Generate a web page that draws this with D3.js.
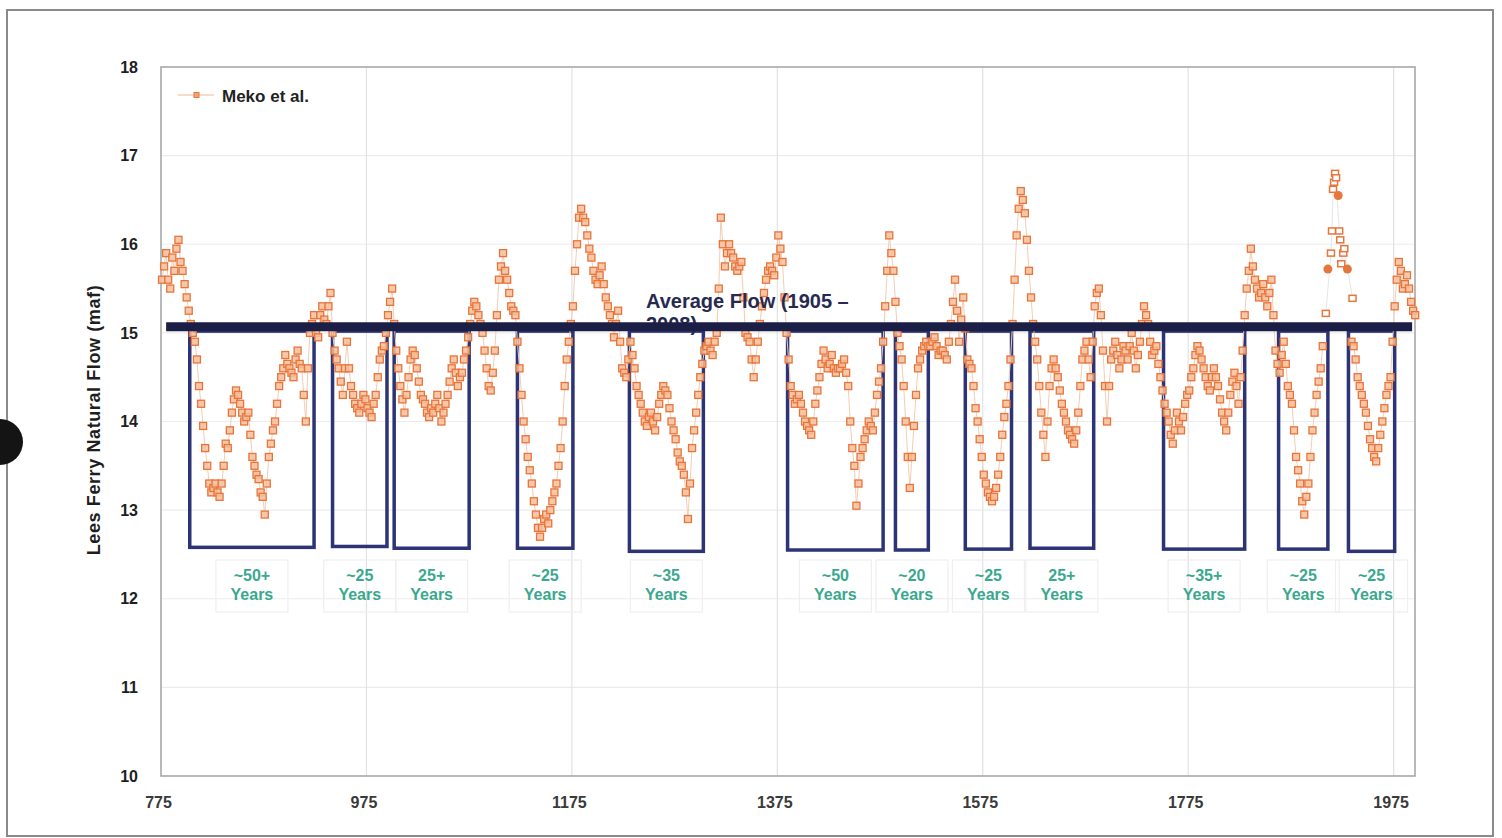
<!DOCTYPE html>
<html>
<head>
<meta charset="utf-8">
<script src="https://cdn.jsdelivr.net/npm/d3@7"></script>
<style>
  html, body { margin: 0; padding: 0; background: #fff; }
  svg { display: block; font-family: "Liberation Sans", Arial, sans-serif; }
</style>
</head>
<body>
<svg id="chart" width="1502" height="838"></svg>
<script>
// Lees Ferry natural flow reconstruction (Meko et al.), maf.
// flowA holds the years 776, 780, 784 ... and flowB the years 778, 782, 786 ...
const yearsA = d3.range(776, 1997, 4);
const flowA = [
  15.6, 15.9, 15.5, 15.7, 16.05, 15.7, 15.4, 15.1, 14.9, 14.4,
  13.95, 13.5, 13.2, 13.3, 13.15, 13.5, 13.7, 14.1, 14.35, 14.2,
  14.0, 14.1, 13.6, 13.4, 13.2, 12.95, 13.6, 13.9, 14.2, 14.5,
  14.75, 14.6, 14.5, 14.8, 14.6, 14.0, 15.0, 15.2, 14.95, 15.3,
  15.1, 15.45, 14.8, 14.6, 14.3, 14.9, 14.4, 14.2, 14.1, 14.3,
  14.15, 14.05, 14.3, 14.7, 14.85, 15.2, 15.5, 14.8, 14.4, 14.1,
  14.5, 14.8, 14.6, 14.3, 14.2, 14.05, 14.1, 14.3, 14.0, 14.2,
  14.45, 14.7, 14.4, 14.55, 14.8, 15.1, 15.35, 15.2, 15.0, 14.6,
  14.35, 14.8, 15.6, 15.9, 15.6, 15.3, 15.2, 14.6, 14.0, 13.6,
  13.3, 12.95, 12.7, 12.9, 12.85, 13.1, 13.3, 13.7, 14.4, 14.9,
  15.3, 16.0, 16.4, 16.25, 15.95, 15.7, 15.55, 15.75, 15.4, 15.2,
  14.95, 15.25, 14.6, 14.5, 14.9, 14.6, 14.3, 14.1, 13.95, 14.1,
  13.9, 14.2, 14.4, 14.3, 14.0, 13.8, 13.55, 13.4, 12.9, 13.7,
  14.1, 14.5, 14.8, 14.9, 14.75, 15.0, 16.3, 15.75, 16.0, 15.85,
  15.7, 15.8, 15.0, 14.9, 14.5, 14.9, 15.3, 15.6, 15.75, 15.65,
  16.1, 15.8, 15.0, 14.4, 14.2, 14.3, 14.1, 13.95, 13.85, 14.2,
  14.5, 14.8, 14.6, 14.75, 14.55, 14.6, 14.7, 14.4, 13.7, 13.05,
  13.6, 13.8, 14.0, 13.9, 14.3, 14.6, 15.3, 16.1, 15.7, 15.0,
  14.7, 14.0, 13.25, 13.95, 14.6, 14.8, 14.9, 14.85, 14.95, 14.75,
  14.8, 14.7, 15.1, 15.6, 14.9, 15.4, 14.7, 14.6, 14.15, 13.8,
  13.4, 13.2, 13.1, 13.25, 13.6, 14.05, 14.4, 15.1, 16.1, 16.6,
  16.35, 15.7, 15.1, 14.7, 14.1, 13.6, 14.4, 14.7, 14.5, 14.2,
  14.0, 13.85, 13.75, 14.1, 14.7, 14.9, 14.5, 15.3, 15.5, 14.8,
  14.0, 14.7, 14.9, 14.6, 14.85, 14.7, 15.0, 14.6, 14.9, 15.3,
  15.1, 14.75, 14.85, 14.5, 14.2, 14.0, 13.75, 14.1, 13.9, 14.2,
  14.35, 14.6, 14.85, 14.7, 14.5, 14.35, 14.6, 14.4, 14.1, 13.9,
  14.3, 14.55, 14.2, 14.8, 15.5, 15.95, 15.6, 15.4, 15.55, 15.3,
  15.6, 14.8, 14.55, 14.9, 14.4, 14.2, 13.6, 13.3, 12.95, 13.3,
  13.9, 14.3, 14.6, null, null, null, null, null, null, null,
  14.85, 14.5, 14.3, 14.1, 13.8, 13.6, 13.7, 14.0, 14.3, 14.5,
  15.3, 15.8, 15.5, 15.65, 15.35, 15.2
];
const yearsB = d3.range(778, 1995, 4);
const flowB = [
  15.75, 15.6, 15.85, 15.95, 15.8, 15.55, 15.25, 15.0, 14.7, 14.2,
  13.7, 13.3, 13.25, 13.2, 13.3, 13.75, 13.9, 14.25, 14.3, 14.1,
  14.05, 13.85, 13.5, 13.35, 13.15, 13.3, 13.75, 14.0, 14.4, 14.6,
  14.65, 14.55, 14.7, 14.65, 14.3, 14.6, 15.1, 15.0, 15.2, 15.15,
  15.3, 15.0, 14.7, 14.45, 14.6, 14.6, 14.3, 14.15, 14.2, 14.25,
  14.1, 14.2, 14.5, 14.8, 15.0, 15.35, 15.1, 14.6, 14.25, 14.3,
  14.7, 14.75, 14.45, 14.25, 14.1, 14.15, 14.2, 14.15, 14.1, 14.3,
  14.6, 14.55, 14.5, 14.7, 14.95, 15.25, 15.3, 15.1, 14.8, 14.4,
  14.55, 15.2, 15.75, 15.7, 15.45, 15.25, 14.9, 14.3, 13.8, 13.45,
  13.1, 12.8, 12.8, 12.95, 13.0, 13.2, 13.5, 14.0, 14.7, 15.1,
  15.7, 16.3, 16.3, 16.1, 15.85, 15.6, 15.65, 15.55, 15.3, 15.1,
  15.1, 14.9, 14.55, 14.7, 14.75, 14.4, 14.2, 14.0, 14.05, 14.0,
  14.05, 14.3, 14.35, 14.15, 13.9, 13.65, 13.5, 13.2, 13.3, 13.9,
  14.3, 14.65, 14.85, 14.8, 14.9, 15.5, 16.0, 15.9, 15.9, 15.75,
  15.75, 15.4, 14.95, 14.7, 14.7, 15.1, 15.45, 15.7, 15.7, 15.85,
  15.95, 15.4, 14.7, 14.3, 14.25, 14.2, 14.0, 13.9, 14.0, 14.35,
  14.65, 14.7, 14.65, 14.6, 14.6, 14.65, 14.55, 14.0, 13.5, 13.3,
  13.7, 13.9, 13.95, 14.1, 14.45, 14.9, 15.7, 15.9, 15.35, 14.85,
  14.4, 13.6, 13.6, 14.3, 14.7, 14.85, 14.85, 14.9, 14.85, 14.8,
  14.75, 14.9, 15.35, 15.25, 15.15, 15.05, 14.65, 14.4, 14.0, 13.6,
  13.3, 13.15, 13.15, 13.4, 13.85, 14.2, 14.7, 15.6, 16.4, 16.5,
  16.05, 15.4, 14.9, 14.4, 13.85, 14.0, 14.6, 14.6, 14.35, 14.1,
  13.9, 13.8, 13.9, 14.4, 14.8, 14.7, 14.9, 15.45, 15.2, 14.4,
  14.4, 14.8, 14.75, 14.7, 14.8, 14.85, 14.8, 14.75, 15.1, 15.2,
  14.9, 14.8, 14.65, 14.35, 14.1, 13.85, 13.9, 14.0, 14.05, 14.3,
  14.5, 14.75, 14.8, 14.6, 14.4, 14.5, 14.5, 14.25, 14.0, 14.1,
  14.45, 14.4, 14.5, 15.2, 15.7, 15.75, 15.5, 15.45, 15.4, 15.45,
  15.2, 14.65, 14.75, 14.65, 14.3, 13.9, 13.45, 13.1, 13.15, 13.6,
  14.1, 14.45, 14.85, null, null, null, null, null, null, 14.9,
  14.7, 14.4, 14.2, 13.95, 13.7, 13.55, 13.85, 14.15, 14.4, 14.9,
  15.6, 15.7, 15.55, 15.5, 15.25
];

// Early 20th-century wet period, drawn as crisp open squares and filled dots
const wetYears = [1909, 1914, 1915, 1916, 1917, 1918, 1919, 1922, 1923, 1924, 1926, 1927, 1935];
const wetFlow  = [15.22, 15.9, 16.15, 16.62, 16.7, 16.8, 16.75, 16.15, 16.05, 15.78, 15.9, 15.95, 15.39];
const dotYears = [1911, 1921, 1930];
const dotFlow  = [15.72, 16.55, 15.72];

// Long-term average
const avgFlow = 15.07;
const avgSpan = [780, 1993];

// Drought periods (start year, end year, lower edge in maf) and their labels
const droughtStart = [803, 942, 1002, 1122, 1231, 1385, 1490, 1558, 1621, 1751, 1863, 1931];
const droughtEnd   = [924, 995, 1075, 1176, 1303, 1478, 1522, 1603, 1683, 1830, 1911, 1976];
const droughtLow   = [12.58, 12.59, 12.57, 12.57, 12.535, 12.55, 12.55, 12.56, 12.57, 12.56, 12.56, 12.535];
const droughtTop   = 15.02;
const droughtLabel = ["~50+", "~25", "25+", "~25", "~35", "~50", "~20", "~25", "25+", "~35+", "~25", "~25"];

const xTicks = [775, 975, 1175, 1375, 1575, 1775, 1975];
const yTicks = [10, 11, 12, 13, 14, 15, 16, 17, 18];

const svg = d3.select("#chart");
const plot = { left: 161, right: 1415, top: 67, bottom: 776 };

const x = d3.scaleLinear().domain([775, 1995.8]).range([plot.left, plot.right]);
const y = d3.scaleLinear().domain([10, 18]).range([plot.bottom, plot.top]);

// outer frame and edge mark
svg.append("rect").attr("x", 7).attr("y", 10).attr("width", 1486).attr("height", 826)
  .attr("fill", "#fff").attr("stroke", "#8a8a8a").attr("stroke-width", 2);
svg.append("circle").attr("cx", 0).attr("cy", 442).attr("r", 23).attr("fill", "#141414");

// gridlines
const grid = svg.append("g");
grid.selectAll("line.h").data(yTicks.slice(1, -1)).join("line")
  .attr("x1", plot.left).attr("x2", plot.right)
  .attr("y1", d => y(d)).attr("y2", d => y(d))
  .attr("stroke", "#ececec").attr("stroke-width", 1.2);
grid.selectAll("line.v").data(xTicks.slice(1)).join("line")
  .attr("x1", d => x(d)).attr("x2", d => x(d))
  .attr("y1", plot.top).attr("y2", plot.bottom)
  .attr("stroke", "#e2e2e2").attr("stroke-width", 1.2);

// plot frame
svg.append("rect").attr("x", plot.left).attr("y", plot.top)
  .attr("width", plot.right - plot.left).attr("height", plot.bottom - plot.top)
  .attr("fill", "none").attr("stroke", "#a8a8a8").attr("stroke-width", 1.6);

// axes
const yAxis = svg.append("g").attr("transform", `translate(${plot.left},0)`)
  .call(d3.axisLeft(y).tickValues(yTicks).tickFormat(d3.format("d")).tickSize(0).tickPadding(23));
const xAxis = svg.append("g").attr("transform", `translate(0,${plot.bottom})`)
  .call(d3.axisBottom(x).tickValues(xTicks).tickFormat(d3.format("d")).tickSize(0).tickPadding(21));
[yAxis, xAxis].forEach(a => {
  a.select(".domain").remove();
  a.selectAll("text").attr("font-size", 16).attr("font-weight", "bold")
    .attr("font-family", "'Liberation Sans', Arial, sans-serif");
});
yAxis.selectAll("text").attr("fill", "#1e1e1e");
xAxis.selectAll("text").attr("fill", "#3a3a3a").attr("dx", -3);

// axis title
svg.append("text")
  .attr("transform", "translate(100,420) rotate(-90)")
  .attr("text-anchor", "middle")
  .attr("font-size", 18).attr("font-weight", "bold").attr("fill", "#1e1e1e")
  .attr("letter-spacing", 0.6)
  .text("Lees Ferry Natural Flow (maf)");

// drought boxes
const boxes = svg.append("g");
boxes.selectAll("rect").data(droughtStart).join("rect")
  .attr("x", d => x(d))
  .attr("y", y(droughtTop))
  .attr("width", (d, i) => x(droughtEnd[i]) - x(d))
  .attr("height", (d, i) => y(droughtLow[i]) - y(droughtTop))
  .attr("fill", "none").attr("stroke", "#2d3476").attr("stroke-width", 3.5);

// drought labels with their faint text frames
const labels = svg.append("g");
droughtStart.forEach((s, i) => {
  const cx = (x(s) + x(droughtEnd[i])) / 2;
  labels.append("rect").attr("x", cx - 36).attr("y", 560).attr("width", 72).attr("height", 52)
    .attr("fill", "none").attr("stroke", "#efefef").attr("stroke-width", 1.2);
  const t = labels.append("text").attr("text-anchor", "middle")
    .attr("font-size", 16).attr("fill", "#3aa88e").attr("font-weight", "bold");
  t.append("tspan").attr("x", cx).attr("y", 581).text(droughtLabel[i]);
  t.append("tspan").attr("x", cx).attr("y", 600).text("Years");
});

// reconstructed series
const series = yearsA.map((yr, i) => ({ yr, v: flowA[i] }))
  .concat(yearsB.map((yr, i) => ({ yr, v: flowB[i] })))
  .sort((a, b) => a.yr - b.yr);
const pts = series.filter(d => d.v != null);
const line = d3.line().defined(d => d.v != null).x(d => x(d.yr)).y(d => y(d.v));
svg.append("path").datum(series)
  .attr("d", line).attr("fill", "none").attr("stroke", "#f3cdb4").attr("stroke-width", 1);
svg.append("g").selectAll("rect").data(pts).join("rect")
  .attr("x", d => x(d.yr) - 3.5).attr("y", d => y(d.v) - 3.5)
  .attr("width", 7).attr("height", 7)
  .attr("fill", "#f6bf9c").attr("fill-opacity", 0.85)
  .attr("stroke", "#e8743a").attr("stroke-width", 1.3);

// wet period points
const wet = wetYears.map((yr, i) => ({ yr, v: wetFlow[i] }));
svg.append("path").datum(wet).attr("d", d3.line().x(d => x(d.yr)).y(d => y(d.v)))
  .attr("fill", "none").attr("stroke", "#e6e6e6").attr("stroke-width", 1);
svg.append("g").selectAll("rect").data(wet).join("rect")
  .attr("x", d => x(d.yr) - 3.5).attr("y", d => y(d.v) - 3)
  .attr("width", 7).attr("height", 6)
  .attr("fill", "#fff").attr("stroke", "#e5773d").attr("stroke-width", 1.5);
svg.append("g").selectAll("circle").data(dotYears).join("circle")
  .attr("cx", d => x(d)).attr("cy", (d, i) => y(dotFlow[i])).attr("r", 4.5)
  .attr("fill", "#e5773d");

// average flow caption (second line sits under the bar)
const cap = svg.append("text").attr("font-size", 20).attr("font-weight", "bold").attr("fill", "#272a50");
cap.append("tspan").attr("x", 646).attr("y", 308).text("Average Flow (1905 \u2013");
cap.append("tspan").attr("x", 646).attr("y", 331).text("2008)");

// average flow bar
svg.append("line")
  .attr("x1", x(avgSpan[0])).attr("x2", x(avgSpan[1]))
  .attr("y1", y(avgFlow)).attr("y2", y(avgFlow))
  .attr("stroke", "#1b1f46").attr("stroke-width", 9);

// legend
const lg = svg.append("g");
lg.append("line").attr("x1", 178).attr("x2", 214).attr("y1", 95).attr("y2", 95)
  .attr("stroke", "#f1b594").attr("stroke-width", 1.2);
lg.append("rect").attr("x", 194).attr("y", 92.5).attr("width", 5).attr("height", 5)
  .attr("fill", "#f3a27a").attr("stroke", "#e8763c").attr("stroke-width", 1);
lg.append("text").attr("x", 222).attr("y", 102).attr("font-size", 17).attr("font-weight", "bold")
  .attr("fill", "#222").text("Meko et al.");
</script>
</body>
</html>
